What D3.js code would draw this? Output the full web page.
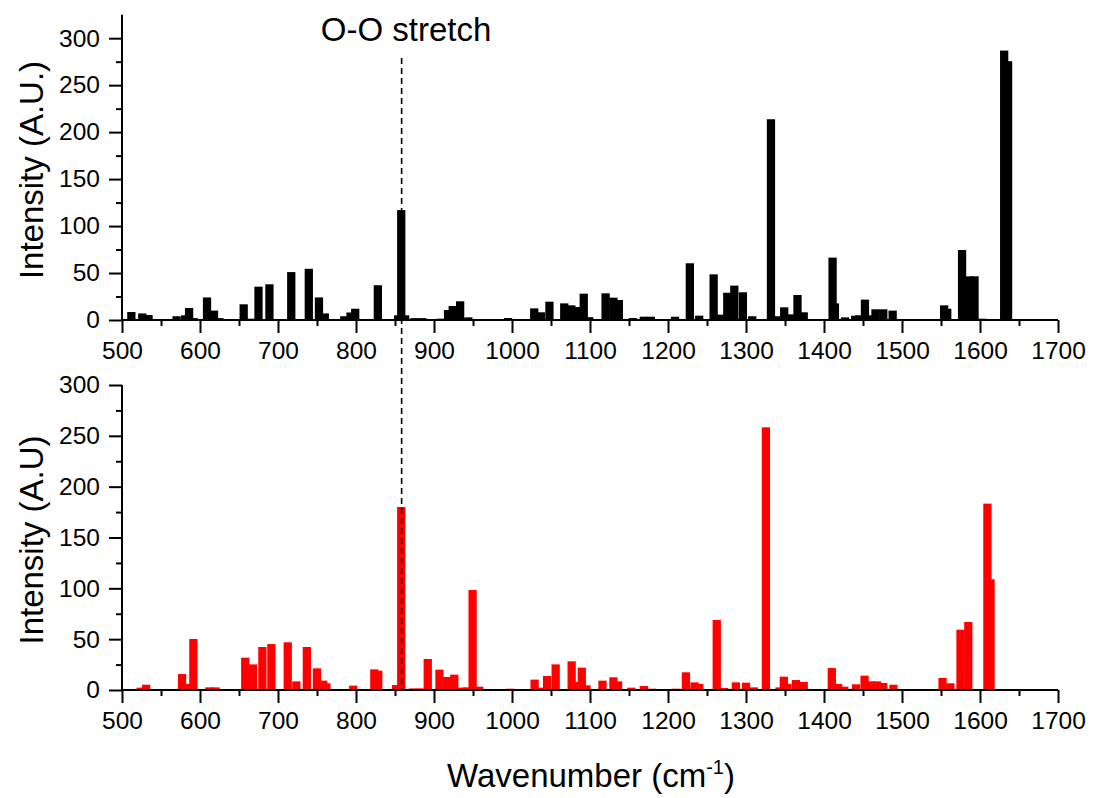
<!DOCTYPE html>
<html>
<head>
<meta charset="utf-8">
<script src="https://cdn.jsdelivr.net/npm/d3@7"></script>
<style>
  html, body { margin: 0; padding: 0; background: #fff; }
  svg { display: block; }
  text { font-family: "Liberation Sans", Arial, sans-serif; fill: #000; }
</style>
</head>
<body>
<svg id="chart" width="1094" height="798"></svg>
<script>
// Wavenumber (cm^-1) of each computed mode and its intensity, upper spectrum
const upperWavenumber = [512, 526, 534, 570, 581, 586, 592, 609, 618, 625, 656, 664, 675, 689, 717, 739.5, 752.5, 760, 785, 793, 799, 828, 854, 858, 863, 875, 885, 897, 909, 918, 924, 933.5, 944, 975, 995, 1028.5, 1037, 1048, 1067, 1076, 1083, 1092, 1099, 1120, 1130, 1137, 1155, 1169, 1178, 1209, 1228, 1240, 1258.5, 1267, 1276, 1285, 1296, 1308, 1332, 1340, 1349, 1357, 1366, 1374, 1411, 1414, 1427, 1440, 1445, 1452.5, 1462, 1466, 1476, 1488, 1554, 1558, 1577, 1586, 1593, 1603, 1631, 1636];
const upperIntensity = [8.5, 7, 5.3, 4, 5, 12.8, 2, 24, 10, 2, 16.7, 1.4, 35.5, 38, 51, 54.5, 24, 7, 4, 8, 12, 37, 5, 117, 5, 2, 2, 1, 1.4, 10.6, 14.9, 19.9, 2.8, 1, 2.1, 12.4, 8.2, 19.5, 17.7, 15.6, 13.8, 28, 3, 28.4, 23.8, 21.3, 2.1, 3.5, 3.5, 3.5, 60.4, 4.6, 48.6, 5.7, 29, 36.6, 29.5, 4, 213.7, 4, 13.5, 6, 26.6, 8.2, 66.4, 17.7, 2.8, 4.5, 5, 21.7, 5, 11.4, 11.4, 10, 15.6, 12, 74.5, 46.5, 46.5, 1.4, 286.8, 275.5];

// Lower spectrum
const lowerWavenumber = [524, 531, 577, 583, 591.5, 612, 620, 658, 668, 680, 691.5, 712.5, 723.5, 737, 750, 758, 762, 785, 796.5, 823.5, 828.5, 851.5, 858, 873, 883, 892, 907, 916.5, 926, 936, 942, 949.5, 958, 980, 998, 1029, 1038, 1045, 1056, 1076.5, 1083, 1089.5, 1095.5, 1116, 1130, 1136, 1153, 1169, 1180, 1210, 1223, 1234, 1240, 1262.5, 1272, 1287, 1300, 1310, 1325.5, 1343, 1348.5, 1353, 1364, 1374, 1410, 1418, 1426, 1441, 1452, 1460, 1468, 1476, 1489, 1552, 1562, 1575, 1585, 1609.5, 1613.5];
const lowerIntensity = [2.3, 5.2, 15.7, 5.9, 50.2, 2.6, 2.6, 31.8, 25.2, 42.3, 45.2, 46.9, 8.5, 42.3, 21.3, 9.2, 6.6, 1, 4.3, 20.3, 19, 4.9, 180, 1.6, 1.6, 30.5, 20, 12.8, 15.1, 2.3, 2.6, 98.4, 3.3, 1, 1.3, 10.2, 2.3, 13.8, 25.2, 28.2, 8, 22, 4.6, 9.2, 12.5, 8.5, 2.3, 3.9, 1.3, 1.3, 17.4, 7.5, 5.9, 68.9, 2, 7.5, 7.2, 2.6, 258.4, 2.6, 13.1, 6, 9.8, 7.9, 21.6, 5.9, 3.3, 5.6, 14.1, 8.5, 8.5, 6.9, 5.2, 11.8, 6.6, 59.3, 66.9, 183.3, 108.9];

// Axis ticks
const xMajorTicks = [500, 600, 700, 800, 900, 1000, 1100, 1200, 1300, 1400, 1500, 1600, 1700];
const xMinorTicks = [550, 650, 750, 850, 950, 1050, 1150, 1250, 1350, 1450, 1550, 1650];
const yMajorTicks = [0, 50, 100, 150, 200, 250, 300];
const yMinorTicks = [25, 75, 125, 175, 225, 275];

// Marked vibrational mode
const markerWavenumber = 858.5;
const markerLabel = "O-O stretch";

const svg = d3.select("#chart");

const x = d3.scaleLinear().domain([500, 1700]).range([122, 1058]);
const yUpper = d3.scaleLinear().domain([0, 325]).range([320, 14.7]);
const yLower = d3.scaleLinear().domain([0, 300]).range([690, 385]);

const barWidthUnits = 10.6;
const barPx = x(500 + barWidthUnits) - x(500);

function panel(yScale, wn, vals, color, yTitle, titleY) {
  const g = svg.append("g");
  const data = wn.map((w, i) => ({ w, v: vals[i] }));

  g.append("g").selectAll("rect").data(data).join("rect")
    .attr("x", d => x(d.w) - barPx / 2)
    .attr("width", barPx)
    .attr("y", d => yScale(d.v))
    .attr("height", d => yScale(0) - yScale(d.v))
    .attr("fill", color);

  const base = yScale(0);

  // x axis: major ticks with labels, minor ticks without
  const xa = g.append("g").attr("transform", `translate(0,${base})`)
    .call(d3.axisBottom(x).tickValues(xMajorTicks).tickSize(13).tickPadding(9).tickFormat(d3.format("d")));
  g.append("g").attr("transform", `translate(0,${base})`)
    .call(d3.axisBottom(x).tickValues(xMinorTicks).tickSize(6).tickFormat(""))
    .select(".domain").remove();

  // y axis
  const ya = g.append("g").attr("transform", `translate(${x(500)},0)`)
    .call(d3.axisLeft(yScale).tickValues(yMajorTicks).tickSize(13).tickPadding(9));
  g.append("g").attr("transform", `translate(${x(500)},0)`)
    .call(d3.axisLeft(yScale).tickValues(yMinorTicks).tickSize(6).tickFormat(""))
    .select(".domain").remove();

  g.selectAll(".domain").attr("stroke", "#000").attr("stroke-width", 2);
  g.selectAll(".tick line").attr("stroke", "#000").attr("stroke-width", 2);
  g.selectAll(".tick text").attr("font-size", 24.5).attr("font-family", "Liberation Sans, Arial, sans-serif").attr("fill", "#000");

  // plain axis lines without the outer end caps
  xa.select(".domain").attr("d", `M${x(500)},0H${x(1700)}`);
  ya.select(".domain").attr("d", `M0,${yScale.range()[0]}V${yScale.range()[1]}`);

  svg.append("text")
    .attr("transform", `translate(43,${titleY}) rotate(-90)`)
    .attr("text-anchor", "middle")
    .attr("font-size", 33)
    .text(yTitle);
}

panel(yUpper, upperWavenumber, upperIntensity, "#000000", "Intensity (A.U.)", 170);
panel(yLower, lowerWavenumber, lowerIntensity, "#ff0000", "Intensity (A.U)", 540);

// Dashed marker through both spectra
svg.append("line")
  .attr("x1", x(markerWavenumber)).attr("x2", x(markerWavenumber))
  .attr("y1", 58).attr("y2", yLower(0))
  .attr("stroke", "#000").attr("stroke-width", 1.6)
  .attr("stroke-dasharray", "6,4");

svg.append("text")
  .attr("x", 406).attr("y", 41)
  .attr("text-anchor", "middle")
  .attr("font-size", 33)
  .text(markerLabel);

// x axis title with superscript
const xt = svg.append("text")
  .attr("x", 591).attr("y", 787)
  .attr("text-anchor", "middle")
  .attr("font-size", 33);
xt.append("tspan").text("Wavenumber (cm");
xt.append("tspan").attr("font-size", 20).attr("dy", -13).text("-1");
xt.append("tspan").attr("dy", 13).text(")");
</script>
</body>
</html>
